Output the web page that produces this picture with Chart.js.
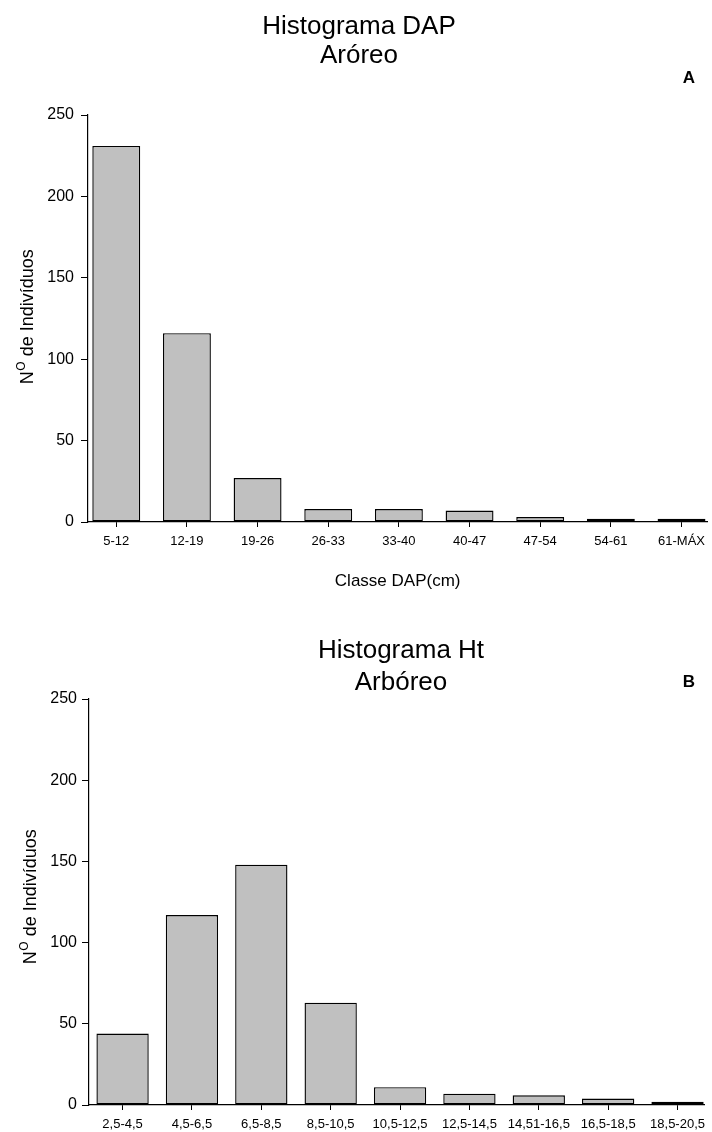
<!DOCTYPE html>
<html>
<head>
<meta charset="utf-8">
<script src="https://cdn.jsdelivr.net/npm/chart.js@4.4.1/dist/chart.umd.min.js"></script>
<style>
  html, body { margin: 0; padding: 0; background: #fff; }
  .panel { position: absolute; left: 0; width: 712px; }
  #panelA { top: 0; height: 600px; }
  #panelB { top: 600px; height: 532px; }
</style>
</head>
<body>
<div class="panel" id="panelA"><canvas id="chartA"></canvas></div>
<div class="panel" id="panelB"><canvas id="chartB"></canvas></div>
<script>
// --- Data ---
const dapClasses = ['5-12', '12-19', '19-26', '26-33', '33-40', '40-47', '47-54', '54-61', '61-MÁX'];
const dapCounts = [231, 116, 27, 8, 8, 7, 3, 2, 2];

const htClasses = ['2,5-4,5', '4,5-6,5', '6,5-8,5', '8,5-10,5', '10,5-12,5', '12,5-14,5', '14,51-16,5', '16,5-18,5', '18,5-20,5'];
const htCounts = [44, 117, 148, 63, 11, 7, 6, 4, 2];

const yTicks = [0, 50, 100, 150, 200, 250];

// --- Global defaults ---
Chart.defaults.font.family = "'Liberation Sans', Arial, sans-serif";
Chart.defaults.color = '#000';
Chart.defaults.animation = false;

const FONT = "'Liberation Sans', Arial, sans-serif";

// titles, panel letter and the y title with its superscript
function panelText(cfg) {
  return {
    id: 'panelText',
    afterDraw(chart) {
      const ctx = chart.ctx;
      ctx.save();
      ctx.fillStyle = '#000';
      ctx.textAlign = 'center';
      ctx.textBaseline = 'alphabetic';
      ctx.font = '26px ' + FONT;
      cfg.title.forEach((line, i) => ctx.fillText(line, cfg.titleX, cfg.titleY[i]));

      ctx.font = 'bold 17px ' + FONT;
      ctx.fillText(cfg.letter, cfg.letterX, cfg.letterY);

      // rotated y title: N + superscript O + rest
      ctx.translate(cfg.yTitleX, cfg.yTitleY);
      ctx.rotate(-Math.PI / 2);
      ctx.textAlign = 'left';
      const big = '18px ' + FONT, small = '12px ' + FONT;
      ctx.font = big;
      const wN = ctx.measureText('N').width;
      const wRest = ctx.measureText(' de Indivíduos').width;
      ctx.font = small;
      const wO = ctx.measureText('O').width;
      let x = -(wN + wO + wRest) / 2;
      ctx.font = big;
      ctx.fillText('N', x, 0);
      ctx.font = small;
      ctx.fillText('O', x + wN + 0.5, -8);
      ctx.font = big;
      ctx.fillText(' de Indivíduos', x + wN + wO + 0.5, 0);
      ctx.restore();
    }
  };
}

function makeChart(id, classes, counts, o) {
  const ctx = document.getElementById(id).getContext('2d');
  return new Chart(ctx, {
    type: 'bar',
    data: {
      datasets: [{
        data: counts.map((v, i) => ({ x: i, y: v })),
        backgroundColor: '#c0c0c0',
        borderColor: '#000',
        borderWidth: 1.4,
        borderSkipped: false,
        categoryPercentage: 1,
        barPercentage: o.barPct
      }]
    },
    options: {
      responsive: true,
      maintainAspectRatio: false,
      layout: { autoPadding: false, padding: { left: 0, right: 0, top: o.top, bottom: 0 } },
      plugins: { legend: { display: false }, tooltip: { enabled: false }, title: { display: false } },
      scales: {
        x: {
          type: 'linear',
          min: o.xMin,
          max: o.xMax,
          offset: false,
          afterBuildTicks: s => { s.ticks = classes.map((_, i) => ({ value: i })); },
          afterFit: s => { s.height = o.xHeight; },
          grid: { display: true, offset: false, drawOnChartArea: false, drawTicks: true, tickLength: 5, color: '#000' },
          border: { display: true, color: '#000', width: 1.2 },
          ticks: {
            autoSkip: false, maxRotation: 0, minRotation: 0, padding: 7,
            font: { size: 13 }, color: '#000',
            callback: v => classes[v]
          },
          title: o.xTitle ? {
            display: true, text: o.xTitle, color: '#000',
            font: { size: 17 }, padding: { top: 0, bottom: 8 }
          } : { display: false }
        },
        y: {
          min: 0,
          max: 250,
          afterBuildTicks: s => { s.ticks = yTicks.map(v => ({ value: v })); },
          afterFit: s => { s.width = o.yWidth; },
          grid: { display: true, drawOnChartArea: false, drawTicks: true, tickLength: 7, color: '#000' },
          border: { display: true, color: '#000', width: 1.2 },
          ticks: { padding: o.yPad, font: { size: 16 }, color: '#000' }
        }
      }
    },
    plugins: [panelText(o.text)]
  });
}

makeChart('chartA', dapClasses, dapCounts, {
  barPct: 0.678, top: 115, xMin: -0.4, xMax: 8.365, xHeight: 78, yWidth: 88, yPad: 7,
  xTitle: 'Classe DAP(cm)',
  text: { title: ['Histograma DAP', 'Aróreo'], titleX: 359, titleY: [34, 63],
          letter: 'A', letterX: 689, letterY: 83, yTitleX: 33, yTitleY: 317 }
});

makeChart('chartB', htClasses, htCounts, {
  barPct: 0.754, top: 99, xMin: -0.484, xMax: 8.384, xHeight: 27, yWidth: 89, yPad: 5,
  xTitle: null,
  text: { title: ['Histograma Ht', 'Arbóreo'], titleX: 401, titleY: [58, 90],
          letter: 'B', letterX: 689, letterY: 87, yTitleX: 36, yTitleY: 297 }
});
</script>
</body>
</html>
